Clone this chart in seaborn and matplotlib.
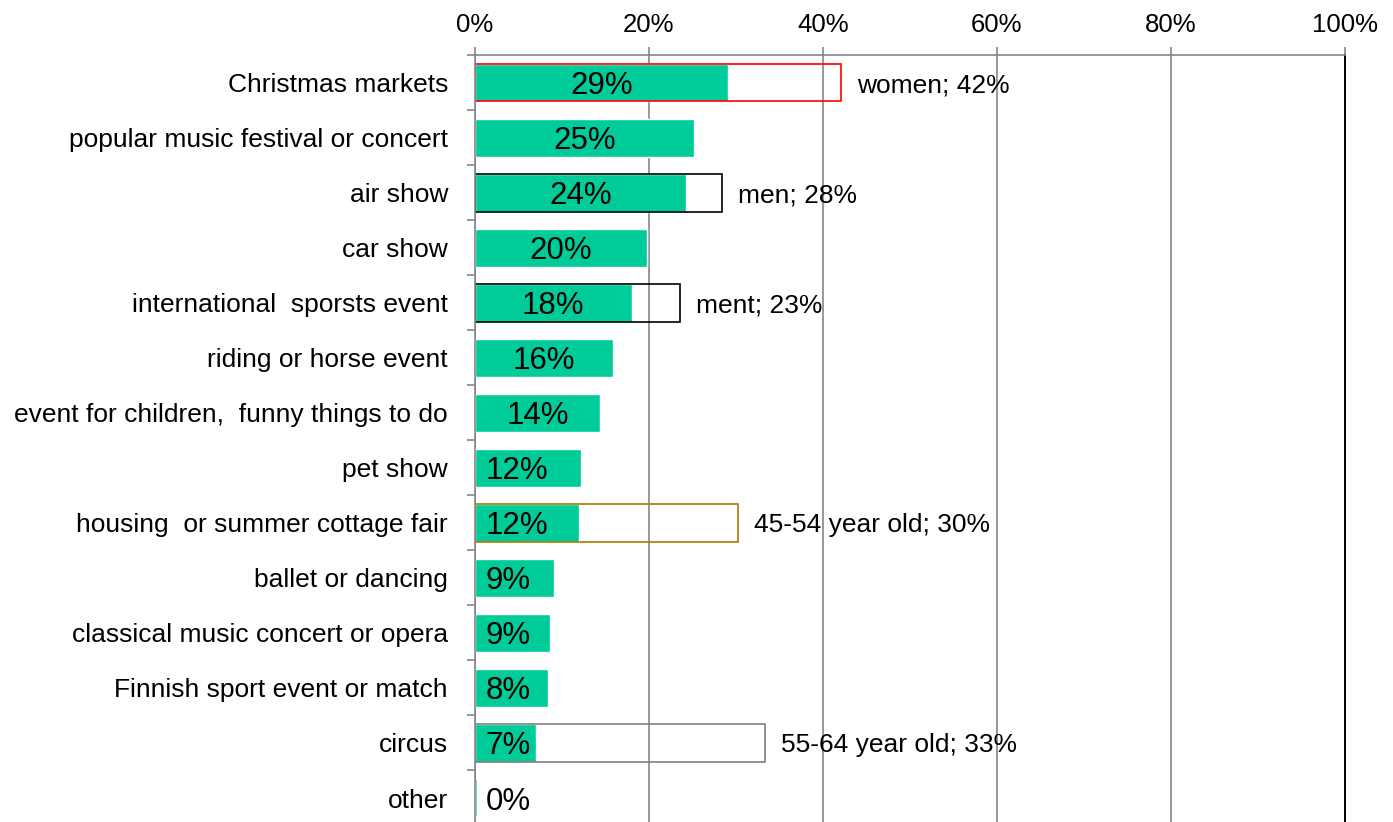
# -*- coding: utf-8 -*-

"""
    plot.py
    Events people would like to visit, with the highest-interest group marked
"""
import matplotlib
matplotlib.use('Agg')
import matplotlib.pyplot as plt
import numpy as np
import pandas as pd
import seaborn as sns

# data
categories = ['Christmas markets', 'popular music festival or concert', 'air show', 'car show',
              'international  sporsts event', 'riding or horse event',
              'event for children,  funny things to do', 'pet show',
              'housing  or summer cottage fair', 'ballet or dancing',
              'classical music concert or opera', 'Finnish sport event or match', 'circus', 'other']
values = [29.1, 25.2, 24.3, 19.8, 18.0, 15.9, 14.4, 12.2, 12.0, 9.1, 8.6, 8.4, 7.0, 0.2]
value_labels = ['29%', '25%', '24%', '20%', '18%', '16%', '14%', '12%', '12%', '9%', '9%', '8%', '7%', '0%']

group_categories = ['Christmas markets', 'air show', 'international  sporsts event',
                    'housing  or summer cottage fair', 'circus']
group_values = [42.1, 28.4, 23.6, 30.2, 33.3]
group_labels = ['women; 42%', 'men; 28%', 'ment; 23%', '45-54 year old; 30%', '55-64 year old; 33%']
group_colors = ['#FF0000', '#000000', '#000000', '#A87C00', '#808080']

x_ticks = [0, 20, 40, 60, 80, 100]
x_tick_labels = ['0%', '20%', '40%', '60%', '80%', '100%']

GREEN = '#00CC99'
GRID = '#868686'


def main():
    sns.set_style('white')
    plt.rcParams['font.family'] = ['Liberation Sans', 'DejaVu Sans']
    plt.rcParams['text.color'] = 'black'
    plt.rcParams['xtick.labelcolor'] = 'black'
    plt.rcParams['ytick.labelcolor'] = 'black'

    df = pd.DataFrame({'category': categories, 'value': values})
    df_group = pd.DataFrame({'category': group_categories, 'value': group_values})

    fig = plt.figure(figsize=(13.93, 8.22), dpi=100)
    ax = fig.add_axes([0.341, -0.0043, 0.6245, 0.9374])

    sns.barplot(data=df, x='value', y='category', order=categories, color=GREEN,
                saturation=1, width=0.69, orient='h', ax=ax, zorder=3)
    # outline bars for the group with the highest share
    sns.barplot(data=df_group, x='value', y='category', order=categories, hue='category',
                hue_order=group_categories, palette=group_colors, fill=False, dodge=False,
                width=0.69, linewidth=1.2, orient='h', legend=False, ax=ax, zorder=4)

    # labels inside the green bars
    for i, (v, lab) in enumerate(zip(values, value_labels)):
        if v < 14:
            ax.text(1.2, i, lab, ha='left', va='center_baseline', fontsize=22.5,
                    color='black', zorder=5)
        else:
            ax.text(v / 2, i, lab, ha='center', va='center_baseline', fontsize=22.5,
                    color='black', zorder=5)

    # labels next to the outline bars
    for cat, v, lab in zip(group_categories, group_values, group_labels):
        ax.annotate(lab, xy=(v, categories.index(cat)), xytext=(11.5, 0),
                    textcoords='offset points', ha='left', va='center_baseline',
                    fontsize=19, color='black', zorder=2)

    ax.set_xlim(0, 100)
    ax.set_ylim(len(categories) - 0.5, -0.5)
    ax.xaxis.tick_top()
    ax.set_xticks(x_ticks)
    ax.set_xticklabels(x_tick_labels)
    ax.tick_params(axis='x', top=True, bottom=False, length=6, width=1.2, color=GRID,
                   labelsize=18.5, labelcolor='black', pad=7)
    ax.tick_params(axis='y', which='major', left=False, labelsize=19, labelcolor='black', pad=16)
    ax.set_yticks(np.arange(-0.5, len(categories)), minor=True)
    ax.tick_params(axis='y', which='minor', left=True, length=6, width=1.2, color=GRID)
    ax.set_xlabel('')
    ax.set_ylabel('')

    ax.grid(axis='x', color=GRID, linewidth=1.2, zorder=0)
    ax.set_axisbelow(True)
    for side in ['top', 'left']:
        ax.spines[side].set_color(GRID)
        ax.spines[side].set_linewidth(1.2)
        ax.spines[side].set_zorder(6)
    ax.spines['right'].set_color('black')
    ax.spines['right'].set_linewidth(1.4)
    ax.spines['right'].set_zorder(6)
    ax.spines['bottom'].set_visible(False)

    plt.savefig('out.png', dpi=100)


if __name__ == '__main__':
    main()
